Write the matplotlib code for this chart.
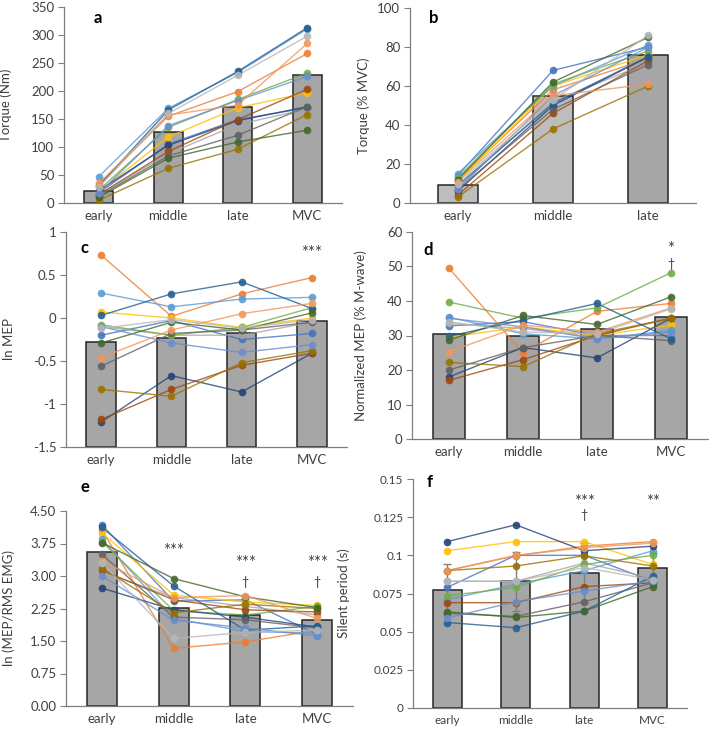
import numpy as np
import matplotlib
matplotlib.use("Agg")
import matplotlib.pyplot as plt

# ---------------
# Data
# ---------------

phases4 = ["early", "middle", "late", "MVC"]
phases3 = ["early", "middle", "late"]

# Excel-style series colours, one per subject
subj_colors = ["#4472C4", "#ED7D31", "#A5A5A5", "#FFC000", "#5B9BD5",
               "#70AD47", "#264478", "#9E480E", "#636363", "#997300",
               "#255E91", "#43682B", "#698ED0", "#F1975A", "#B7B7B7"]

# a: torque (Nm)
torque_nm = [
    [18, 105, 149, 170], [33, 155, 199, 267], [14, 88, 140, 168],
    [20, 118, 170, 197], [47, 169, 233, 311], [23, 135, 185, 232],
    [22, 103, 147, 172], [15, 92, 149, 203], [12, 84, 121, 172],
    [5, 62, 96, 158], [30, 166, 235, 313], [10, 80, 109, 130],
    [17, 138, 183, 226], [35, 157, 175, 285], [28, 160, 228, 298],
]
torque_nm_mean = [22, 126, 171, 228]

# b: torque (% MVC)
torque_pct = [
    [14, 68, 80], [12, 58, 74], [8, 52, 72], [11, 60, 76], [15, 60, 81],
    [13, 61, 78], [6, 50, 75], [4, 46, 73], [7, 48, 71], [3, 38, 60],
    [9, 51, 75], [12, 62, 85], [7, 55, 80], [11, 55, 61], [10, 53, 86],
]
torque_pct_mean = [9, 55, 76]

# c: ln MEP
ln_mep = [
    [-0.20, -0.03, -0.25, -0.18], [0.73, 0.02, 0.28, 0.47],
    [-0.10, -0.20, -0.20, -0.05], [0.07, 0.00, -0.11, 0.00],
    [0.29, 0.13, 0.22, 0.24], [-0.08, -0.20, -0.11, 0.12],
    [-1.21, -0.67, -0.86, -0.41], [-1.18, -0.83, -0.55, -0.41],
    [-0.56, -0.18, -0.14, -0.05], [-0.83, -0.91, -0.52, -0.38],
    [0.03, 0.28, 0.42, 0.11], [-0.29, -0.05, -0.14, 0.06],
    [-0.10, -0.29, -0.40, -0.31], [-0.46, -0.14, 0.05, 0.17],
    [-0.12, -0.02, -0.12, -0.02],
]
ln_mep_mean = [-0.28, -0.23, -0.17, -0.04]

# d: normalized MEP (% M-wave)
norm_mep = [
    [32.8, 34.0, 30.0, 30.0], [49.5, 25.0, 37.0, 39.3],
    [33.5, 32.0, 29.5, 30.5], [29.5, 32.5, 30.0, 33.0],
    [35.3, 30.5, 29.0, 31.5], [39.7, 35.0, 38.0, 48.2],
    [18.0, 26.5, 23.5, 35.0], [17.0, 23.0, 30.0, 35.0],
    [20.0, 26.5, 30.0, 28.5], [22.2, 21.0, 30.5, 35.0],
    [29.8, 34.5, 39.3, 29.0], [28.7, 35.8, 33.2, 41.2],
    [35.0, 32.5, 29.0, 31.0], [25.3, 33.0, 31.0, 38.0],
    [34.0, 31.0, 30.5, 37.7],
]
norm_mep_mean = [30.3, 30.0, 31.8, 35.5]

# e: ln (MEP/RMS EMG)
ln_ratio = [
    [4.18, 2.42, 2.45, 1.65], [4.06, 1.33, 1.48, 1.75],
    [3.10, 2.50, 2.30, 2.10], [4.00, 2.56, 2.40, 2.32],
    [3.85, 2.02, 1.72, 1.68], [3.79, 2.20, 2.10, 2.30],
    [2.72, 2.22, 2.05, 1.82], [3.13, 2.45, 2.22, 2.17],
    [3.50, 2.05, 1.99, 1.80], [3.18, 2.15, 2.35, 2.25],
    [4.12, 2.77, 1.75, 1.85], [3.77, 2.94, 2.52, 2.27],
    [3.00, 1.98, 1.80, 1.62], [3.35, 2.50, 2.55, 2.02],
    [3.30, 1.56, 1.70, 1.75],
]
ln_ratio_mean = [3.55, 2.27, 2.10, 1.99]

# f: silent period (s)
silent = [
    [0.079, 0.100, 0.100, 0.083], [0.090, 0.0997, 0.106, 0.109],
    [0.083, 0.083, 0.095, 0.085], [0.103, 0.109, 0.109, 0.094],
    [0.071, 0.081, 0.090, 0.103], [0.0735, 0.079, 0.094, 0.100],
    [0.109, 0.120, 0.103, 0.106], [0.069, 0.069, 0.0795, 0.082],
    [0.062, 0.060, 0.0696, 0.082], [0.090, 0.093, 0.0997, 0.093],
    [0.056, 0.0526, 0.0635, 0.0864], [0.063, 0.0593, 0.0635, 0.0795],
    [0.059, 0.0696, 0.0766, 0.0832], [0.090, 0.100, 0.105, 0.108],
    [0.083, 0.083, 0.092, 0.084],
]
silent_mean = [0.0775, 0.083, 0.0885, 0.0915]
silent_sd = [0.0165, 0.0195, 0.0195, 0.010]

# ---------------
# Plot
# ---------------

plt.rcParams["font.family"] = ["Lato", "DejaVu Sans"]
plt.rcParams["axes.unicode_minus"] = False

W, H = 709, 729
fig = plt.figure(figsize=(W / 100, H / 100), dpi=100)


def rect(l, r, t, b):
    return [l / W, 1 - b / H, (r - l) / W, (b - t) / H]


def panel(box, cats, subj, means, ylim, yticks, yticklabels, ylabel, lab_x,
          letter, letter_xy, tick_fs=9.5, bar_colors=None, sd=None):
    ax = fig.add_axes(rect(*box))
    x = np.arange(len(cats))
    if bar_colors is None:
        bar_colors = "#a6a6a6"
    # bars rise from the bottom of the value axis, as in Excel
    heights = np.array(means) - ylim[0]
    ax.bar(x, heights, bottom=ylim[0], width=0.42, color=bar_colors,
           edgecolor="#262626", linewidth=1.1, zorder=1)
    if sd is not None:
        ax.errorbar(x, means, yerr=sd, fmt="none", ecolor="#7f7f7f",
                    elinewidth=1, capsize=3, zorder=2)
    for vals, c in zip(subj, subj_colors):
        ax.plot(x, vals, color=c, lw=1, alpha=0.8, zorder=3)
        ax.plot(x, vals, "o", color=c, ms=5.5, alpha=0.9, mec="none",
                zorder=4)
    ax.set_xlim(-0.5, len(cats) - 0.5)
    ax.set_ylim(*ylim)
    ax.set_xticks(x)
    ax.set_xticklabels(cats, fontsize=tick_fs, color="#404040")
    ax.set_yticks(yticks)
    ax.set_yticklabels(yticklabels, fontsize=tick_fs, color="#404040")
    ax.tick_params(axis="x", length=0, pad=5)
    ax.tick_params(axis="y", length=4, width=0.8, color="#7f7f7f", pad=3)
    for s in ["top", "right"]:
        ax.spines[s].set_visible(False)
    for s in ["left", "bottom"]:
        ax.spines[s].set_color("#7f7f7f")
        ax.spines[s].set_linewidth(0.9)
    ax.set_ylabel(ylabel, fontsize=9.5, color="#404040")
    ax.yaxis.set_label_coords(lab_x, 0.5)
    ax.text(letter_xy[0], letter_xy[1], letter, fontsize=12, fontweight="bold",
            ha="left", va="center", clip_on=False, zorder=6)
    return ax


def mark(ax, x, y, s, fs=12):
    ax.text(x, y, s, ha="center", va="center", fontsize=fs, color="#404040",
            zorder=6, clip_on=False)


# a
ax = panel((64, 342, 7, 203), phases4, torque_nm, torque_nm_mean, (0, 350),
           range(0, 351, 50), [str(v) for v in range(0, 351, 50)],
           "Torque (Nm)", -0.187, "a", (-0.08, 330))

# b
ax = panel((410, 696, 8, 203), phases3, torque_pct, torque_pct_mean,
           (0, 100), range(0, 101, 20), [str(v) for v in range(0, 101, 20)],
           "Torque (% MVC)", -0.14, "b", (-0.3, 95),
           bar_colors=["#bdbdbd", "#bdbdbd", "#a6a6a6"])

# c
ct = [1, 0.5, 0, -0.5, -1, -1.5]
ax = panel((66, 347, 232, 447), phases4, ln_mep, ln_mep_mean, (-1.5, 1),
           ct, ["1", "0.5", "0", "-0.5", "-1", "-1.5"],
           "ln MEP", -0.18, "c", (-0.3, 0.81))
mark(ax, 3, 0.76, "***")

# d
ax = panel((412, 708, 232, 439), phases4, norm_mep, norm_mep_mean, (0, 60),
           range(0, 61, 10), [str(v) for v in range(0, 61, 10)],
           "Normalized MEP (% M-wave)", -0.152, "d", (-0.35, 54.8))
mark(ax, 3, 55.0, "*")
mark(ax, 3, 50.8, "\u2020", fs=9)

# e
et = [0, 0.75, 1.5, 2.25, 3.0, 3.75, 4.5]
ax = panel((66, 353, 511, 706), phases4, ln_ratio, ln_ratio_mean, (0, 4.5),
           et, ["%.2f" % v for v in et],
           "ln (MEP/RMS EMG)", -0.178, "e", (-0.3, 5.06))
mark(ax, 1, 3.58, "***")
mark(ax, 2, 3.30, "***")
mark(ax, 2, 2.87, "\u2020", fs=9)
mark(ax, 3, 3.30, "***")
mark(ax, 3, 2.87, "\u2020", fs=9)

# f
ft = [0, 0.025, 0.05, 0.075, 0.1, 0.125, 0.15]
ax = panel((413, 687, 479, 708), phases4, silent, silent_mean, (0, 0.15),
           ft, ["0", "0.025", "0.05", "0.075", "0.1", "0.125", "0.15"],
           "Silent period (s)", -0.23, "f", (-0.3, 0.148), tick_fs=8.5,
           sd=silent_sd)
mark(ax, 2, 0.135, "***")
mark(ax, 2, 0.1265, "\u2020", fs=9)
mark(ax, 3, 0.135, "**")

fig.savefig("out.png", dpi=100)
